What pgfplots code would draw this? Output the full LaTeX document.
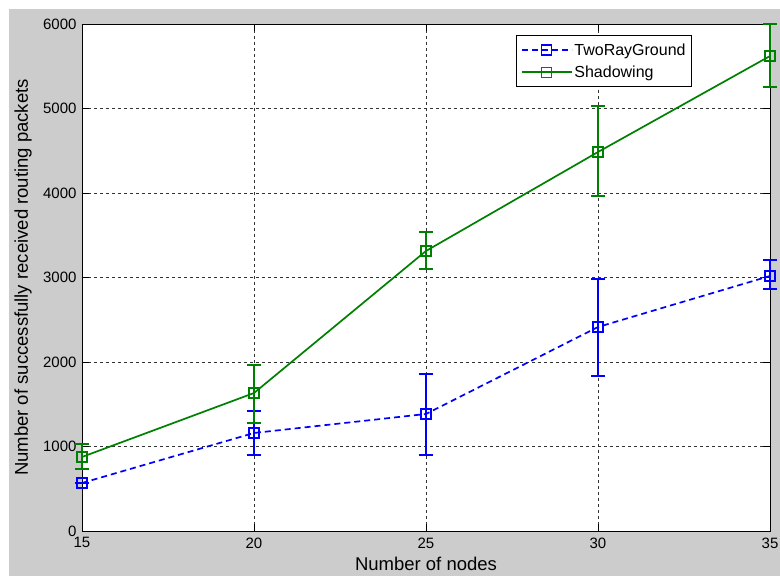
\documentclass[border=0pt]{standalone}
\usepackage{pgfplots}
\pgfplotsset{compat=1.18}
\usepackage{fontspec}
\setmainfont{Liberation Sans}
\definecolor{mgray}{RGB}{204,204,204}
\definecolor{mblue}{RGB}{0,0,255}
\definecolor{mgreen}{RGB}{0,128,0}
\begin{document}
\begin{tikzpicture}[x=1pt,y=1pt]
\useasboundingbox (0,0) rectangle (780,576);
\fill[white] (0,0) rectangle (780,576);
\fill[mgray] (9,0) rectangle (780,567);
\begin{axis}[
  at={(82pt,45pt)}, anchor=south west,
  scale only axis, width=688pt, height=507pt,
  xmin=15, xmax=35, ymin=0, ymax=6000,
  xtick={15,20,25,30,35}, ytick={0,1000,2000,3000,4000,5000,6000},
  axis background/.style={fill=white},
  grid=major,
  major grid style={black!80, dash pattern=on 3pt off 3pt, line width=0.7pt},
  tick align=inside, major tick length=7pt,
  tick style={black, line width=0.8pt},
  axis line style={black, line width=0.8pt},
  font=\fontsize{15}{18}\selectfont,
  ticklabel style={font=\fontsize{15}{18}\selectfont},
  yticklabel style={xshift=-2pt},
  xticklabel style={yshift=-3pt},
  /pgf/number format/assume math mode=true,
  /pgf/number format/set thousands separator={},
  scaled y ticks=false,
  xlabel={Number of nodes},
  ylabel={Number of successfully received routing packets},
  xlabel style={font=\fontsize{18.5}{22}\selectfont, at={(axis description cs:0.5,-0.0785)}, anchor=base, inner sep=1pt},
  ylabel style={font=\fontsize{18.5}{22}\selectfont, at={(axis description cs:-0.0785,0.5)}, anchor=base},
  clip=false,
  legend style={at={(0.8866,0.978)}, anchor=north east, draw=black, fill=white,
    font=\fontsize{16}{19}\selectfont, line width=0.8pt, row sep=5pt,
    inner xsep=4pt, inner ysep=6pt},
  legend cell align=left,
  legend image code/.code={
    \draw[#1] (0pt,0pt) -- (50pt,0pt);
    \draw[#1, solid, mark repeat=1] plot coordinates {(25pt,0pt)};
  },
]
\addplot[mblue, line width=1.7pt, dash pattern=on 6pt off 4pt,
  mark=square, mark size=5pt, mark options={solid, line width=1.4pt},
  error bars/.cd, y dir=both, y explicit,
  error bar style={solid, line width=1.7pt},
  error mark options={rotate=90, mark size=7pt, line width=1.7pt, solid}]
coordinates {
  (15,568)  +- (0,0)
  (20,1160) += (0,260) -= (0,260)
  (25,1385) += (0,473) -= (0,486)
  (30,2414) += (0,568) -= (0,580)
  (35,3018) += (0,189) -= (0,154)
};
\addlegendentry{TwoRayGround}
\addplot[mgreen, line width=1.7pt, solid,
  mark=square, mark size=5pt, mark options={solid, line width=1.4pt},
  error bars/.cd, y dir=both, y explicit,
  error bar style={solid, line width=1.7pt},
  error mark options={rotate=90, mark size=7pt, line width=1.7pt, solid}]
coordinates {
  (15,876)  += (0,155) -= (0,142)
  (20,1633) += (0,331) -= (0,355)
  (25,3314) += (0,224) -= (0,214)
  (30,4485) += (0,545) -= (0,521)
  (35,5621) += (0,379) -= (0,367)
};
\addlegendentry{Shadowing}
\end{axis}
\end{tikzpicture}
\end{document}
